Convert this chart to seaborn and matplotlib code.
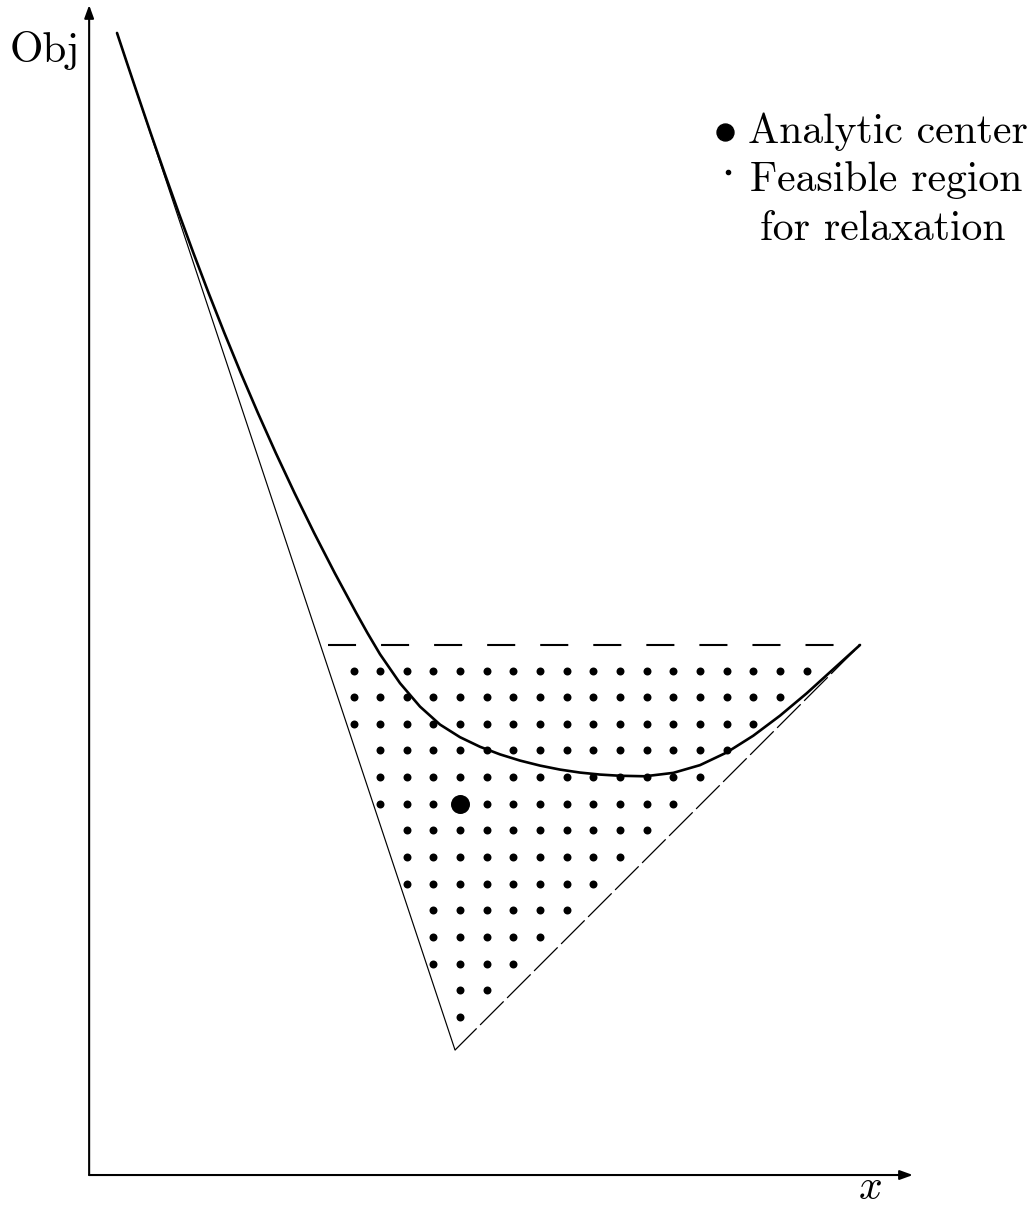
import numpy as np
import pandas as pd
import matplotlib
matplotlib.use("Agg")
import matplotlib.pyplot as plt
import seaborn as sns

# --- data (one unit = one lattice step) ---------------------------------
# objective curve
curve_x = [-8.874, -8.500, -8.122, -7.613, -7.092, -6.559, -6.008, -5.438,
           -4.846, -4.230, -3.587, -2.916, -2.213, -1.477, -0.705, 0.104,
           0.523, 0.994, 1.745, 2.495, 3.246, 3.996, 4.747, 5.497, 6.248,
           6.998, 7.749, 8.499, 9.250, 10.000, 10.938, 12.000, 13.002,
           14.004, 15.002, 16.004, 17.006, 18.004, 19.006]
curve_y = [36.923, 35.797, 34.672, 33.171, 31.670, 30.169, 28.668, 27.167,
           25.666, 24.165, 22.664, 21.163, 19.662, 18.161, 16.660, 15.159,
           14.409, 13.613, 12.525, 11.647, 10.972, 10.499, 10.139, 9.854,
           9.621, 9.433, 9.283, 9.171, 9.096, 9.051, 9.032, 9.160, 9.450,
           9.925, 10.555, 11.306, 12.146, 13.051, 13.959]

# piecewise-linear under-estimator: solid left piece, dashed right piece
left_x, left_y = [-8.874, 3.81], [36.923, -1.24]
right_x, right_y = [3.81, 19.006], [-1.24, 13.959]

# objective cut (horizontal dashed line)
cut_x, cut_y = [-0.96, 19.006], [13.959, 13.959]

# integer lattice points of the relaxation: first / last column per row
row_level = [0, 1, 2, 3, 4, 5, 6, 7, 8, 9, 10, 11, 12, 13]
row_first = [4, 4, 3, 3, 3, 2, 2, 2, 1, 1, 1, 0, 0, 0]
row_last = [4, 5, 6, 7, 8, 9, 10, 11, 12, 13, 14, 15, 16, 17]

# analytic center
center_x, center_y = [4.0], [8.0]

# axis extents
axis_x0, axis_y0 = -9.92, -5.93
axis_x1, axis_y1 = 20.99, 37.97

legend_labels = ["Analytic center", "Feasible region", "for relaxation"]

# --- build tables -------------------------------------------------------
lattice = pd.DataFrame(
    [(c, r) for r, a, b in zip(row_level, row_first, row_last)
     for c in range(a, b + 1)],
    columns=["x", "y"],
)
curve = pd.DataFrame({"x": curve_x, "y": curve_y})
center = pd.DataFrame({"x": center_x, "y": center_y})

# --- style --------------------------------------------------------------
sns.set_theme(style="white")
plt.rcParams["font.family"] = "serif"
plt.rcParams["font.serif"] = ["cmr10"]
plt.rcParams["mathtext.fontset"] = "cm"
plt.rcParams["axes.unicode_minus"] = False
plt.rcParams["axes.formatter.use_mathtext"] = True
plt.rcParams["lines.scale_dashes"] = False
plt.rcParams["text.color"] = "black"

fig = plt.figure(figsize=(10.34, 12.07), dpi=100)
ax = fig.add_axes([0, 0, 1, 1])
ax.set_xlim(-13.265, 25.535)
ax.set_ylim(-7.13, 38.16)
ax.axis("off")

# axes with arrow heads
arrow = dict(arrowstyle="-|>,head_length=0.55,head_width=0.2", lw=1.5,
             color="black", shrinkA=0, shrinkB=0, mutation_scale=14)
ax.annotate("", xy=(axis_x0, axis_y1), xytext=(axis_x0, axis_y0), arrowprops=arrow)
ax.annotate("", xy=(axis_x1, axis_y0), xytext=(axis_x0, axis_y0), arrowprops=arrow)

# lines
sns.lineplot(x=left_x, y=left_y, ax=ax, color="black", lw=0.85, sort=False,
             estimator=None)
sns.lineplot(x=right_x, y=right_y, ax=ax, color="black", lw=0.9, sort=False,
             estimator=None, linestyle=(2, (24, 3.5)))
sns.lineplot(x=cut_x, y=cut_y, ax=ax, color="black", lw=1.5, sort=False,
             estimator=None, linestyle=(0, (20.2, 18)))
sns.lineplot(data=curve, x="x", y="y", ax=ax, color="black", lw=1.9,
             sort=False, estimator=None,
             solid_joinstyle="round", solid_capstyle="round")

# lattice points and analytic center
sns.scatterplot(data=lattice, x="x", y="y", ax=ax, color="black", s=33,
                linewidth=0, zorder=3)
sns.scatterplot(data=center, x="x", y="y", ax=ax, color="black", s=187,
                linewidth=0, zorder=4)

# axis labels
ax.text(-12.89, 35.83, "Obj", fontsize=31, ha="left", va="baseline")
ax.text(19.38, -6.83, r"$x$", fontsize=30, ha="center", va="baseline")

# key
ax.plot([0.7012], [0.8906], marker="o", ms=12.2, color="black", lw=0,
        transform=ax.transAxes, clip_on=False)
ax.plot([0.7041], [0.8575], marker="o", ms=3.0, color="black", lw=0,
        transform=ax.transAxes, clip_on=False)
ax.text(14.80, 32.80, legend_labels[0], fontsize=30, ha="left", va="baseline")
ax.text(14.88, 30.99, legend_labels[1], fontsize=30, ha="left", va="baseline")
ax.text(15.25, 29.16, legend_labels[2], fontsize=30, ha="left", va="baseline")

fig.savefig("out.png", dpi=100)
